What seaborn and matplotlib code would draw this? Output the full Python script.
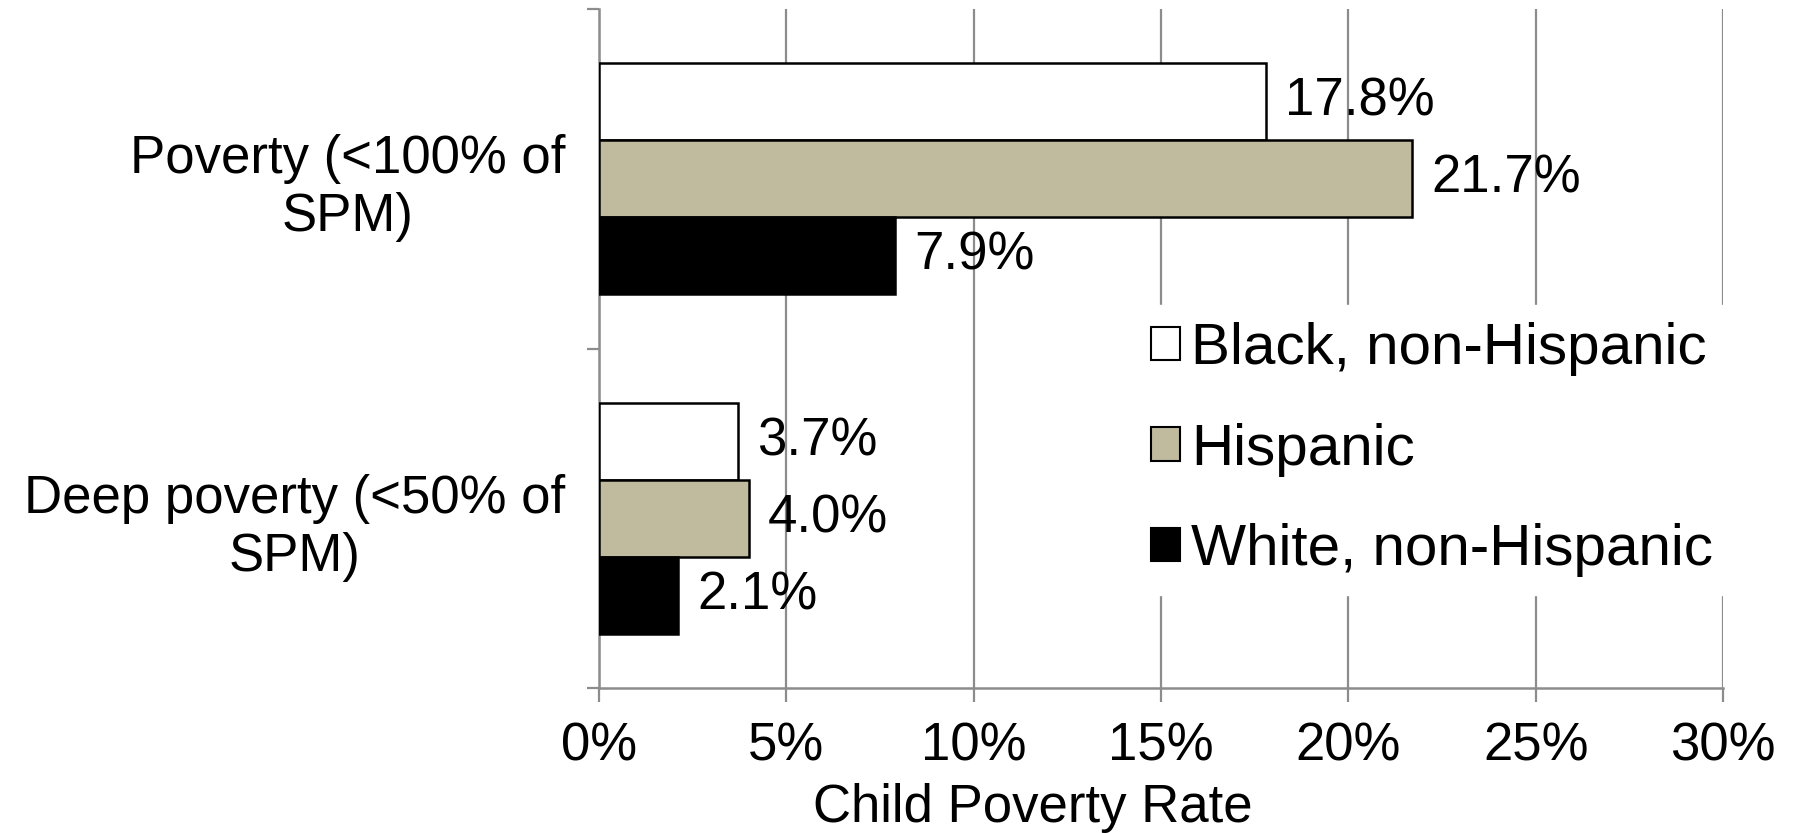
import matplotlib
matplotlib.use("Agg")
import matplotlib.pyplot as plt
import pandas as pd
import seaborn as sns
from matplotlib.ticker import FixedLocator, PercentFormatter

sns.set_style('white')
plt.rcParams['font.family'] = ['Liberation Sans', 'DejaVu Sans']
plt.rcParams['text.color'] = 'black'
plt.rcParams['xtick.labelcolor'] = 'black'
plt.rcParams['ytick.labelcolor'] = 'black'
plt.rcParams['axes.labelcolor'] = 'black'

# data
categories = ['Poverty (<100% of\nSPM)', 'Deep poverty (<50% of\nSPM)']
groups = ['Black, non-Hispanic', 'Hispanic', 'White, non-Hispanic']
black_rates = [17.8, 3.7]
hispanic_rates = [21.7, 4.0]
white_rates = [7.9, 2.1]
colors = ['#FFFFFF', '#C5BE99', '#000000']

df = pd.DataFrame({
    'measure': categories * 3,
    'group': [g for g in groups for _ in categories],
    'rate': black_rates + hispanic_rates + white_rates,
})

FS = 38
GRID = '#8c8c8c'

fig = plt.figure(figsize=(17.93, 8.33), dpi=100)
ax = fig.add_axes([0.334, 0.174, 0.627, 0.815])

sns.barplot(data=df, y='measure', x='rate', hue='group', order=categories,
            hue_order=groups, palette=colors, orient='h', width=0.68,
            edgecolor='black', linewidth=1.8, ax=ax, zorder=3)

for cont in ax.containers:
    labels = [f'{b.get_width():.1f}%' for b in cont]
    ax.bar_label(cont, labels=labels, padding=14, fontsize=FS, color='black')

ax.set_xlim(0, 30)
ax.set_ylim(1.5, -0.5)
ax.xaxis.set_major_locator(FixedLocator([0, 5, 10, 15, 20, 25, 30]))
ax.xaxis.set_major_formatter(PercentFormatter(decimals=0))
ax.grid(axis='x', color=GRID, linewidth=1.6, zorder=0)
ax.set_axisbelow(True)

# category separators as minor ticks
ax.yaxis.set_minor_locator(FixedLocator([-0.5, 0.5, 1.5]))
ax.tick_params(axis='y', which='major', length=0, pad=24, labelsize=FS)
ax.tick_params(axis='y', which='minor', length=9, width=1.6, color=GRID, direction='out', left=True)
ax.tick_params(axis='x', which='major', length=10, width=1.6, color=GRID, direction='out',
               bottom=True, pad=14, labelsize=FS)
for lab in ax.get_yticklabels():
    lab.set_horizontalalignment('right')
    lab.set_multialignment('center')

for side in ['top', 'right']:
    ax.spines[side].set_visible(False)
for side in ['left', 'bottom']:
    ax.spines[side].set_color(GRID)
    ax.spines[side].set_linewidth(1.8)

ax.set_ylabel('')
ax.set_xlabel('Child Poverty Rate', fontsize=FS)
ax.xaxis.set_label_coords(0.386, -0.14)

leg = ax.legend(loc='center left', bbox_to_anchor=(0.616, 0.46),
                bbox_transform=fig.transFigure, fontsize=42, frameon=True,
                facecolor='white', edgecolor='white', framealpha=1,
                handlelength=0.5, handleheight=0.5, handletextpad=0.18,
                labelspacing=0.8, borderpad=0.3, fancybox=False)
leg.set_zorder(5)
for h in leg.legend_handles:
    h.set_edgecolor('black')
    h.set_linewidth(1.5)

fig.savefig('out.png', dpi=100)
